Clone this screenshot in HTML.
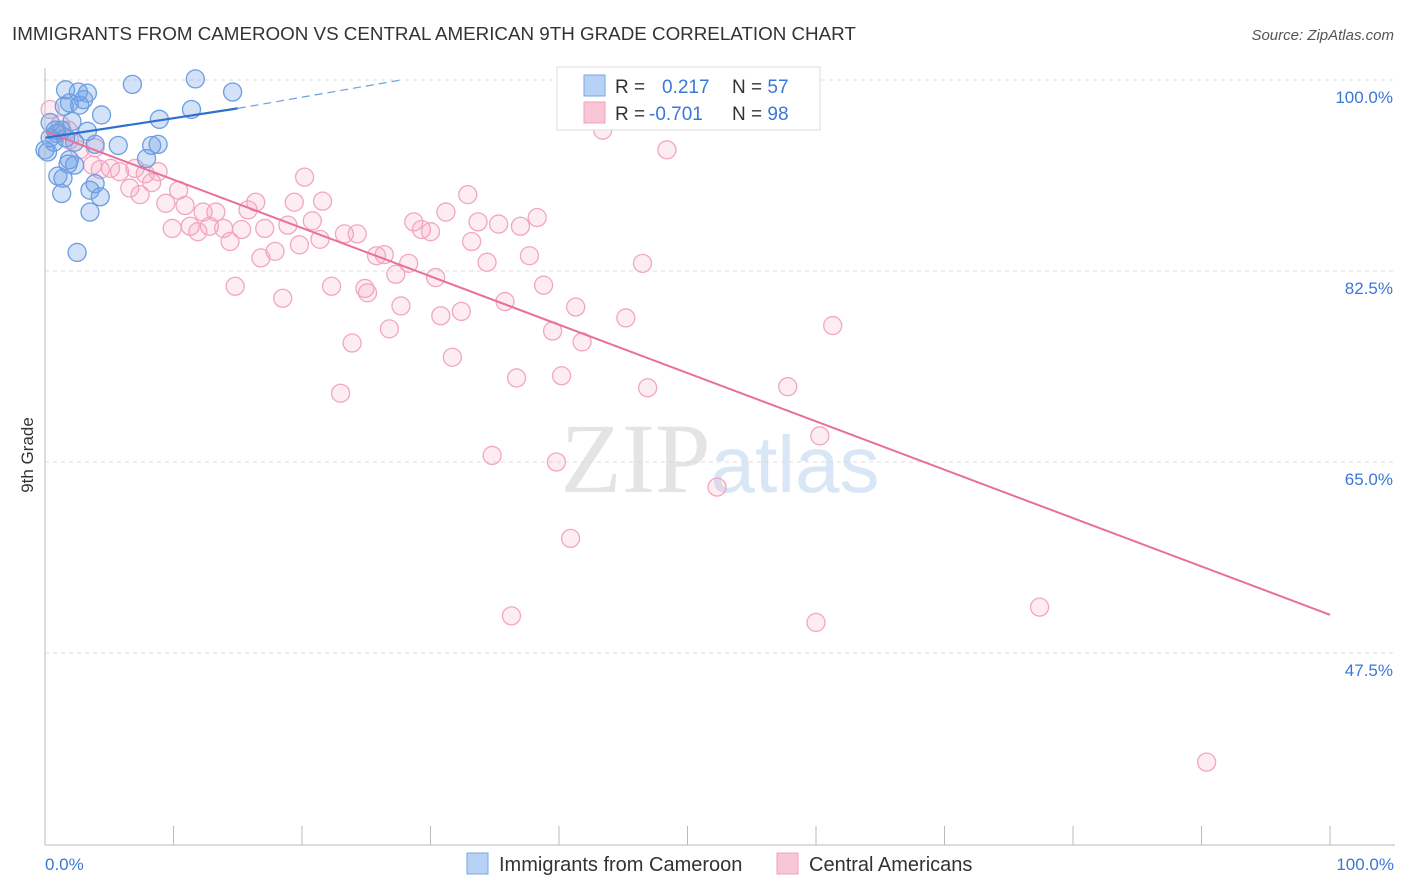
<!DOCTYPE html>
<html><head><meta charset="utf-8"><style>
body{margin:0;background:#fff;font-family:"Liberation Sans",Arial,sans-serif;}
#wrap{position:relative;width:1406px;height:892px;overflow:hidden;}
</style></head><body>
<div id="wrap">
<svg id="svg" width="1406" height="892" xmlns="http://www.w3.org/2000/svg">
<text x="12" y="40" font-size="18.8" fill="#333">IMMIGRANTS FROM CAMEROON VS CENTRAL AMERICAN 9TH GRADE CORRELATION CHART</text>
<text x="1394" y="40" font-size="15" fill="#555" font-style="italic" text-anchor="end">Source: ZipAtlas.com</text>
<text x="33" y="455" font-size="17" fill="#333" text-anchor="middle" transform="rotate(-90 33 455)">9th Grade</text>
<text x="720" y="492" font-size="100" fill="#e4e4e4" text-anchor="middle" font-family="Liberation Serif,serif">ZIP<tspan fill="#d8e6f5" font-family="Liberation Sans,sans-serif" font-size="80">atlas</tspan></text>
<g id="grid"></g><g id="pts"></g><g id="lines"></g>
<line x1="45" y1="845" x2="1395" y2="845" stroke="#bbb"/>
<line x1="45" y1="68" x2="45" y2="845" stroke="#bbb"/>
<text x="45" y="870" font-size="17" fill="#3a78d8">0.0%</text>
<text x="1394" y="870" font-size="17" fill="#3a78d8" text-anchor="end">100.0%</text>
<g>
<rect x="557" y="67" width="263" height="63" fill="#fff" stroke="#ddd"/>
<rect x="584" y="75" width="21" height="21" fill="#b8d2f5" stroke="#7aa6e6"/>
<rect x="584" y="102" width="21" height="21" fill="#f9c6d6" stroke="#f0a0bc"/>
<text x="615" y="93" font-size="19" fill="#333">R = <tspan fill="#3a78d8" x="662">0.217</tspan><tspan x="732" fill="#333">N = </tspan><tspan fill="#3a78d8">57</tspan></text>
<text x="615" y="120" font-size="19" fill="#333">R = <tspan fill="#3a78d8" x="649">-0.701</tspan><tspan x="732" fill="#333">N = </tspan><tspan fill="#3a78d8">98</tspan></text>
</g>
<g>
<rect x="467" y="853" width="21" height="21" fill="#b8d2f5" stroke="#7aa6e6"/>
<text x="499" y="871" font-size="20" fill="#333">Immigrants from Cameroon</text>
<rect x="777" y="853" width="21" height="21" fill="#f9c6d6" stroke="#f0a0bc"/>
<text x="809" y="871" font-size="20" fill="#333">Central Americans</text>
</g>
</svg></div>
<script>
const yTicks=[100,82.5,65,47.5];
const yTickLabels=["100.0%","82.5%","65.0%","47.5%"];
const xTicks=[0,10,20,30,40,50,60,70,80,90,100];
const blueX=[6.8,11.7,14.6,1.6,2.6,3.3,1.9,3.0,2.7,1.5,4.4,11.4,8.9,2.1,0.4,0.8,1.3,3.3,0.4,0.7,2.3,3.9,5.7,8.3,8.8,0.2,1.9,7.9,1.8,2.3,1.0,1.4,3.9,3.5,4.3,1.3,3.5,2.5,0.9,1.6,0];
const blueY=[99.6,100.1,98.9,99.1,98.9,98.8,97.9,98.2,97.7,97.6,96.8,97.3,96.4,96.2,96.1,95.4,95.4,95.3,94.7,94.3,94.3,94.1,94.0,94.0,94.1,93.4,92.7,92.8,92.3,92.2,91.2,91.0,90.5,89.9,89.3,89.6,87.9,84.2,95.1,94.7,93.6];
const pinkX=[43.4,48.4,20.2,32.9,16.4,19.4,21.6,31.2,38.3,28.7,33.7,35.3,37.0,20.8,29.3,30.0,33.2,26.4,25.8,23.3,24.3,21.4,19.8,17.9,16.8,28.3,34.4,37.7,46.5,30.4,27.3,14.8,18.5,22.3,24.9,25.1,27.7,35.8,38.8,41.3,30.8,32.4,45.2,61.3,26.8,39.5,41.8,23.9,31.7,36.7,40.2,23.0,46.9,57.8,60.3,34.8,39.8,52.3,40.9,36.3,60.0,77.4,90.4,
0.4,1.2,1.9,2.7,3.7,4.3,5.8,6.6,7.4,8.3,8.8,9.4,9.9,10.4,10.9,11.3,11.9,12.3,12.8,13.3,13.9,14.4,15.3,15.8,17.1,18.9,7.0,5.1,7.8,3.9,1.8];
const pinkY=[95.4,93.6,91.1,89.5,88.8,88.8,88.9,87.9,87.4,87.0,87.0,86.8,86.6,87.1,86.3,86.1,85.2,84.0,83.9,85.9,85.9,85.4,84.9,84.3,83.7,83.2,83.3,83.9,83.2,81.9,82.2,81.1,80.0,81.1,80.9,80.5,79.3,79.7,81.2,79.2,78.4,78.8,78.2,77.5,77.2,77.0,76.0,75.9,74.6,72.7,72.9,71.3,71.8,71.9,67.4,65.6,65.0,62.7,58.0,50.9,50.3,51.7,37.5,
97.3,95.9,94.5,93.6,92.2,91.8,91.6,90.1,89.5,90.6,91.6,88.7,86.4,89.9,88.5,86.6,86.1,87.9,86.6,87.9,86.4,85.2,86.3,88.1,86.4,86.7,91.9,91.9,91.4,93.8,95.4];
const blueTrend=[[0,94.7],[15,97.4]];
const blueDash=[[15,97.4],[27.7,100]];
const pinkTrend=[[0,95.3],[100,51.0]];
const NS="http://www.w3.org/2000/svg";
const X=v=>45+v*12.85, Y=v=>80+(100-v)*10.914;
function mk(tag,attrs,parent){const e=document.createElementNS(NS,tag);for(const k in attrs)e.setAttribute(k,attrs[k]);parent.appendChild(e);return e;}
const grid=document.getElementById('grid'),pts=document.getElementById('pts'),lines=document.getElementById('lines');
yTicks.forEach((t,i)=>{
 const l=mk('line',{x1:45,x2:1395,y1:Y(t),y2:Y(t),stroke:'#ddd','stroke-dasharray':'4,4'},grid);
 
 
 const tx=mk('text',{x:1393,y:Y(t)+23,'font-size':17,fill:'#3a78d8','text-anchor':'end'},grid);
 tx.textContent=yTickLabels[i];
 
 
});
xTicks.forEach(t=>{
 const l=mk('line',{x1:X(t),x2:X(t),y1:826,y2:845,stroke:'#bbb'},grid);
 
 
});
pinkX.forEach((v,i)=>{
 const c=mk('circle',{cx:X(v),cy:Y(pinkY[i]),r:9,fill:'rgba(244,160,190,0.2)',stroke:'#f2a6c0','stroke-width':1.3},pts);
 
 
});
blueX.forEach((v,i)=>{
 const c=mk('circle',{cx:X(v),cy:Y(blueY[i]),r:9,fill:'rgba(110,160,230,0.3)',stroke:'#6c9ee2','stroke-width':1.3},pts);
 
 
});
let l1=mk('line',{x1:X(pinkTrend[0][0]),y1:Y(pinkTrend[0][1]),x2:X(pinkTrend[1][0]),y2:Y(pinkTrend[1][1]),stroke:'#e8709a','stroke-width':2},lines);


let l2=mk('line',{x1:X(blueTrend[0][0]),y1:Y(blueTrend[0][1]),x2:X(blueTrend[1][0]),y2:Y(blueTrend[1][1]),stroke:'#2f6fd0','stroke-width':2.2},lines);


let l3=mk('line',{x1:X(blueDash[0][0]),y1:Y(blueDash[0][1]),x2:X(blueDash[1][0]),y2:Y(blueDash[1][1]),stroke:'#6c9ee2','stroke-width':1.2,'stroke-dasharray':'8,5'},lines);


</script>
</body></html>
